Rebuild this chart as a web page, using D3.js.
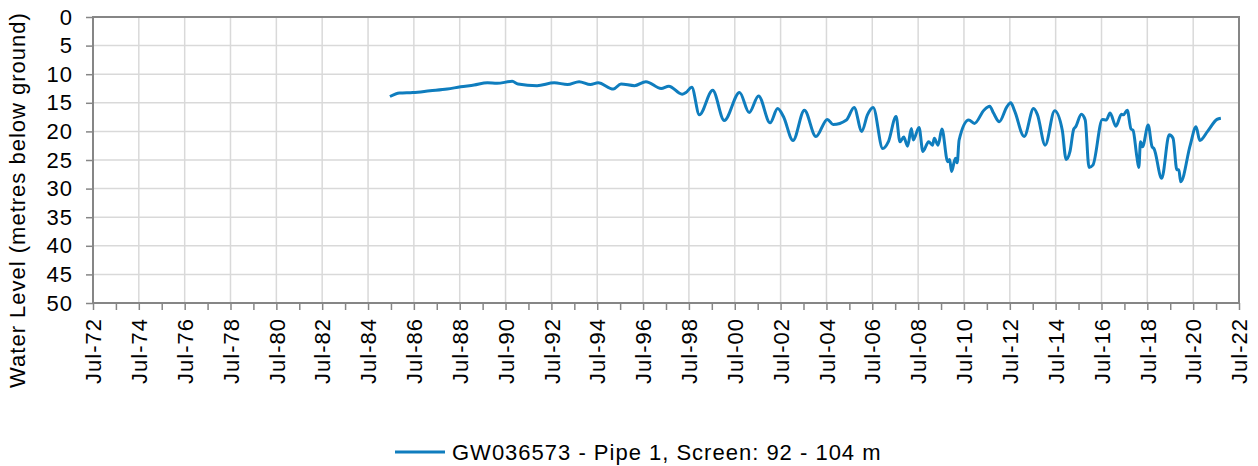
<!DOCTYPE html>
<html>
<head>
<meta charset="utf-8">
<script src="https://cdn.jsdelivr.net/npm/d3@7"></script>
<style>
  body { margin: 0; background: #fff; }
  svg text { font-family: "Liberation Sans", Arial, sans-serif; fill: #000; }
</style>
</head>
<body>
<div id="chart"></div>
<script>
(function() {

  // water level readings (metres below ground)
  var dates = [
    "1985-06", "1985-11", "1986-06", "1987-03", "1987-12", "1988-07", "1989-02", "1989-09",
    "1990-02", "1990-10", "1991-01", "1991-11", "1992-08", "1993-03", "1993-09", "1994-03",
    "1994-07", "1995-03", "1995-07", "1996-02", "1996-08", "1997-04", "1997-08", "1998-03",
    "1998-05", "1998-08", "1998-12", "1999-07", "2000-01", "2000-09", "2001-02", "2001-07",
    "2002-01", "2002-05", "2002-08", "2003-01", "2003-07", "2004-01", "2004-07", "2004-10",
    "2005-05", "2005-09", "2006-01", "2006-04", "2006-07", "2006-12", "2007-03", "2007-07",
    "2007-09", "2007-11", "2008-01", "2008-03", "2008-04", "2008-07", "2008-09", "2008-12",
    "2009-02", "2009-03", "2009-05", "2009-07", "2009-10", "2009-11", "2009-12", "2010-02",
    "2010-03", "2010-04", "2010-09", "2010-12", "2011-05", "2011-08", "2011-10", "2012-01",
    "2012-05", "2012-07", "2012-09", "2013-02", "2013-07", "2013-09", "2014-01", "2014-06",
    "2014-10", "2014-12", "2015-02", "2015-04", "2015-05", "2015-08", "2015-10", "2015-12",
    "2016-02", "2016-07", "2016-09", "2016-11", "2017-02", "2017-05", "2017-06", "2017-08",
    "2017-10", "2017-11", "2018-01", "2018-02", "2018-03", "2018-04", "2018-07", "2018-09",
    "2018-10", "2019-02", "2019-06", "2019-08", "2019-10", "2019-11", "2019-12", "2020-05",
    "2020-08", "2020-10", "2021-02", "2021-07", "2021-09"
  ];

  var levels = [
    13.9, 13.3, 13.2, 12.9, 12.6, 12.2, 11.9, 11.5,
    11.6, 11.25, 11.7, 12.0, 11.5, 11.8, 11.3, 11.8,
    11.5, 12.6, 11.7, 12.0, 11.3, 12.5, 12.1, 13.5,
    13.2, 12.3, 17.1, 12.8, 18.1, 13.2, 16.7, 13.8,
    18.5, 16.0, 17.4, 21.6, 16.3, 20.9, 17.9, 18.8,
    18.0, 15.8, 20.0, 17.1, 15.8, 23.0, 21.8, 17.4,
    21.8, 21.0, 22.6, 19.5, 21.5, 19.3, 23.5, 21.8,
    22.4, 21.2, 22.4, 19.6, 25.3, 24.9, 27.0, 24.7,
    25.5, 21.5, 18.0, 18.6, 16.3, 15.6, 16.8, 18.3,
    15.7, 15.0, 16.4, 20.9, 16.0, 17.1, 22.4, 16.4,
    19.8, 24.9, 23.5, 19.6, 19.2, 17.0, 18.0, 26.3,
    25.9, 17.9, 18.0, 16.8, 19.1, 17.0, 17.1, 16.3,
    19.6, 19.8, 24.4, 26.3, 21.8, 22.7, 18.9, 22.7,
    23.0, 28.2, 20.6, 21.2, 26.7, 26.7, 28.8, 22.4,
    19.2, 21.6, 20.0, 17.9, 17.7
  ];

  var yTicks = [0, 5, 10, 15, 20, 25, 30, 35, 40, 45, 50];
  var seriesName = "GW036573 - Pipe 1, Screen: 92 - 104 m";
  var yTitle = "Water Level (metres below ground)";

  var width = 1258, height = 466;
  var margin = { left: 93, top: 17, right: 19, bottom: 163 };
  var fontSize = 22, spacing = "1px";

  var parse = d3.timeParse("%Y-%m-%d");
  var data = dates.map(function(d, i) {
    return { date: parse(d + "-15"), value: levels[i] };
  });

  var x = d3.scaleTime()
      .domain([new Date(1972, 6, 1), new Date(2022, 6, 1)])
      .range([margin.left, width - margin.right]);

  var y = d3.scaleLinear()
      .domain([0, 50])
      .range([margin.top, height - margin.bottom]);

  var svg = d3.select("#chart").append("svg")
      .attr("width", width)
      .attr("height", height);

  var majorTicks = d3.range(1972, 2023, 2).map(function(yr) { return new Date(yr, 6, 1); });
  var minorTicks = d3.range(1972, 2023, 1).map(function(yr) { return new Date(yr, 6, 1); });

  // gridlines
  svg.append("g")
    .selectAll("line").data(majorTicks).enter().append("line")
      .attr("x1", d => x(d)).attr("x2", d => x(d))
      .attr("y1", y(0)).attr("y2", y(50))
      .attr("stroke", "#d9d9d9").attr("stroke-width", 1.5);

  svg.append("g")
    .selectAll("line").data(yTicks).enter().append("line")
      .attr("x1", x.range()[0]).attr("x2", x.range()[1])
      .attr("y1", d => y(d)).attr("y2", d => y(d))
      .attr("stroke", "#d9d9d9").attr("stroke-width", 1.5);

  // x axis: minor ticks every year, labels every two years
  var xAxis = d3.axisBottom(x)
      .tickValues(minorTicks)
      .tickSize(7)
      .tickFormat(function(d) {
        return d.getFullYear() % 2 === 0 ? d3.timeFormat("Jul-%y")(d) : "";
      });

  var gx = svg.append("g")
      .attr("transform", "translate(0," + y(50) + ")")
      .call(xAxis);

  gx.select(".domain").remove();
  gx.selectAll(".tick line").attr("stroke", "#868686").attr("stroke-width", 1.5);
  gx.selectAll(".tick text")
      .attr("transform", "rotate(-90)")
      .attr("text-anchor", "end")
      .attr("x", -15)
      .attr("y", 0)
      .attr("dy", "0.35em")
      .style("font-size", fontSize + "px")
      .style("letter-spacing", spacing);

  // y axis
  var yAxis = d3.axisLeft(y)
      .tickValues(yTicks)
      .tickSize(7)
      .tickPadding(13);

  var gy = svg.append("g")
      .attr("transform", "translate(" + margin.left + ",0)")
      .call(yAxis);

  gy.select(".domain").remove();
  gy.selectAll(".tick line").attr("stroke", "#868686").attr("stroke-width", 1.5);
  gy.selectAll(".tick text")
      .style("font-size", fontSize + "px")
      .style("letter-spacing", spacing);

  // plot border
  svg.append("rect")
      .attr("x", x.range()[0])
      .attr("y", y(0))
      .attr("width", x.range()[1] - x.range()[0])
      .attr("height", y(50) - y(0))
      .attr("fill", "none")
      .attr("stroke", "#868686")
      .attr("stroke-width", 2);

  // series
  var line = d3.line()
      .x(d => x(d.date))
      .y(d => y(d.value))
      .curve(d3.curveMonotoneX);

  svg.append("path")
      .datum(data)
      .attr("d", line)
      .attr("fill", "none")
      .attr("stroke", "#0f7dbe")
      .attr("stroke-width", 3)
      .attr("stroke-linejoin", "round");

  // y axis title
  svg.append("text")
      .attr("transform", "translate(25,200) rotate(-90)")
      .attr("text-anchor", "middle")
      .style("font-size", fontSize + "px")
      .style("letter-spacing", spacing)
      .text(yTitle);

  // legend
  var legend = svg.append("g")
      .attr("transform", "translate(395,452)");

  legend.append("line")
      .attr("x1", 0).attr("x2", 50)
      .attr("stroke", "#0f7dbe")
      .attr("stroke-width", 3);

  legend.append("text")
      .attr("x", 57)
      .attr("dy", "0.35em")
      .style("font-size", fontSize + "px")
      .style("letter-spacing", spacing)
      .text(seriesName);

})();
</script>
</body>
</html>
